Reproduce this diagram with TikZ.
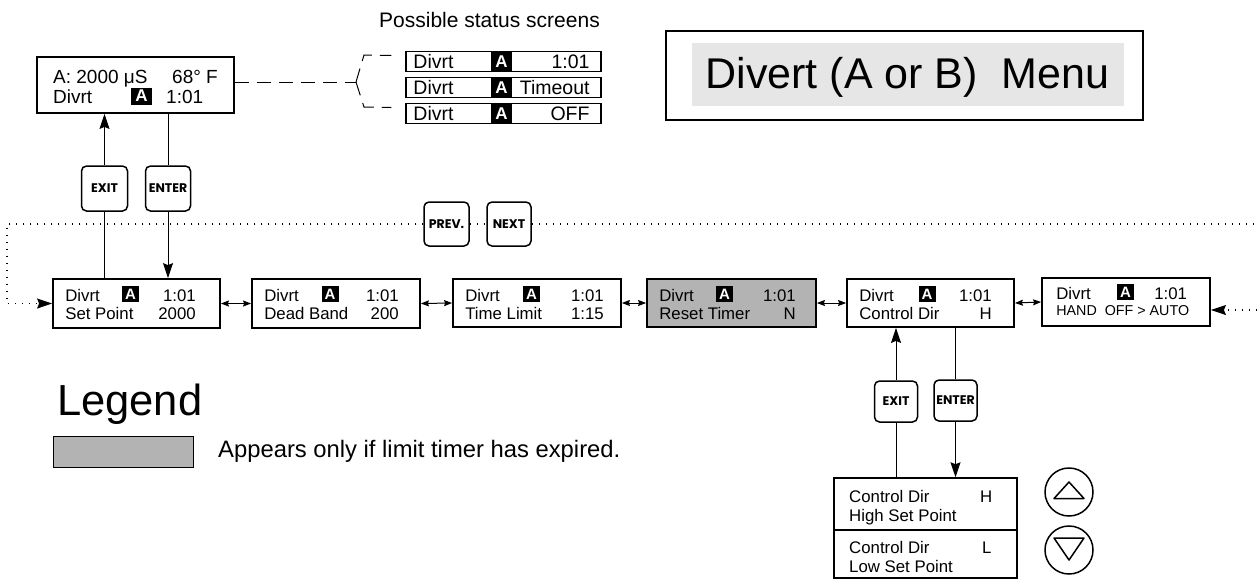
\documentclass[tikz,border=0pt]{standalone}
\usepackage{fontspec}
\setmainfont{Liberation Sans}
\newfontfamily\btnfont{Poppins}
\usetikzlibrary{arrows.meta,calc}
\definecolor{boxgray}{HTML}{B3B3B3}
\definecolor{titlegray}{HTML}{E6E6E6}
\newcommand\rin{24}
\newcommand\aoff{78.5}
\newcommand\lcdscreen[9]{%
  \node[lcd, fill=#6, minimum width=#4pt, minimum height=#5pt] (#1) at (#2,#3) {};
  \node[txt, anchor=base west] (#1-l1) at ($(#1.north west)+(13,23)$) {Divrt};
  \node[ablk] (#1-a) at ($(#1.north west)+(\aoff,16)$) {A};
  \node[txt, anchor=base east] (#1-r1) at ($(#1.north east)+(-\rin,23)$) {#7};
  \node[txt, anchor=base west] (#1-l2) at ($(#1.north west)+(13,41)$) {#8};
  \node[txt, anchor=base east] (#1-r2) at ($(#1.north east)+(-\rin,41)$) {#9};
}
\newcommand\statusrow[3]{%
  \node[srow] (#1) at (503.5,#2) {};
  \node[stxt, anchor=base west] (#1-l) at ($(#1.west)+(8,6.8)$) {Divrt};
  \node[sblk] (#1-a) at (501.5,#2) {A};
  \node[stxt, anchor=base east] (#1-r) at ($(#1.east)+(-12,6.8)$) {#3};
}
\begin{document}
\begin{tikzpicture}[x=1pt,y=-1pt,
  lcd/.style={draw, line width=1.8pt, inner sep=0pt},
  txt/.style={inner sep=0pt, font=\fontsize{16.8}{18}\selectfont},
  stattxt/.style={inner sep=0pt, font=\fontsize{19}{20}\selectfont},
  ablk/.style={fill=black, text=white, inner sep=0pt, minimum width=17pt, minimum height=16pt, font=\fontsize{15}{15}\selectfont\bfseries},
  srow/.style={draw, line width=1.5pt, inner sep=0pt, minimum width=195pt, minimum height=20pt},
  stxt/.style={inner sep=0pt, font=\fontsize{19.5}{20}\selectfont},
  sblk/.style={fill=black, text=white, inner sep=0pt, minimum width=21pt, minimum height=20pt, font=\fontsize{17}{17}\selectfont\bfseries},
  btn/.style={draw, line width=1.5pt, rounded corners=5pt, fill=white, inner sep=0pt, font=\btnfont\bfseries\fontsize{12.5}{14}\selectfont},
  conn/.style={line width=1pt},
  bigarr/.style={-{Stealth[length=15pt,width=10pt,inset=2pt]}},
  smallarr/.style={{Stealth[length=8pt,width=6pt,inset=1pt]}-{Stealth[length=8pt,width=6pt,inset=1pt]}},
  dotline/.style={line width=1.1pt, dash pattern=on 1.2pt off 5.8pt},
  dashline/.style={line width=1pt, dash pattern=on 14pt off 8pt},
]
\useasboundingbox (0,0) rectangle (1257,579);

% ---------- status display ----------
\node[lcd, minimum width=197pt, minimum height=56pt] (st) at (135.5,85) {};
\node[stattxt, anchor=base west] (st-l1) at (53,83) {A: 2000 μS};
\node[stattxt, anchor=base west] (st-r1) at (172,83) {68° F};
\node[stattxt, anchor=base west] (st-l2) at (53,103) {Divrt};
\node[ablk, minimum width=21pt, minimum height=17pt, font=\fontsize{17}{17}\selectfont\bfseries] (st-a) at (141.5,96) {A};
\node[stattxt, anchor=base west] (st-r2) at (166,103) {1:01};

% ---------- possible status screens ----------
\node[inner sep=0pt, font=\fontsize{21}{22}\selectfont, anchor=base] (pss) at (489.5,27) {Possible status screens};
\statusrow{s1}{61.5}{1:01}
\statusrow{s2}{87.5}{Timeout}
\statusrow{s3}{113.5}{OFF}
\coordinate (brj) at (356,82);
\draw[dashline] ($(st.east)+(0,-3)$) -- (brj);
\draw[dashline] (brj) -- (364,55) -- ($(s1.west)+(-14,-6)$);
\draw[dashline] (brj) -- (364,107) -- ($(s3.west)+(-14,-6)$);

% ---------- title ----------
\node[draw, line width=1.5pt, inner sep=0pt, minimum width=477pt, minimum height=89pt] (ttl) at (904.5,75.5) {};
\node[fill=titlegray, inner sep=0pt, minimum width=432pt, minimum height=63pt] (ttlbg) at (908,74.5) {};
\node[inner sep=0pt, font=\fontsize{43}{46}\selectfont, anchor=base] (ttltxt) at (907.5,88) {Divert (A or B)\ \ Menu};

% ---------- main row ----------
\renewcommand\rin{25}\renewcommand\aoff{78.5}
\lcdscreen{b1}{136.5}{303.5}{167}{49}{white}{1:01}{Set Point}{2000}
\renewcommand\rin{22}\renewcommand\aoff{79}
\lcdscreen{b2}{336}{303.5}{168}{49}{white}{1:01}{Dead Band}{200}
\renewcommand\rin{18}\renewcommand\aoff{79.5}
\lcdscreen{b3}{537}{303}{168}{48}{white}{1:01}{Time Limit}{1:15}
\renewcommand\rin{21}\renewcommand\aoff{78.5}
\lcdscreen{b4}{731.5}{303}{169}{48}{boxgray}{1:01}{Reset Timer}{N}
\renewcommand\rin{23}\renewcommand\aoff{81}
\lcdscreen{b5}{930.5}{303}{167}{48}{white}{1:01}{Control Dir}{H}

\node[lcd, minimum width=168pt, minimum height=48pt] (b6) at (1126,302) {};
\node[txt, anchor=base west] (b6-l1) at ($(b6.north west)+(15,22)$) {Divrt};
\node[ablk] (b6-a) at ($(b6.north west)+(84.5,15)$) {A};
\node[txt, anchor=base west] (b6-r1) at ($(b6.north west)+(113,22)$) {1:01};
\node[txt, font=\fontsize{14.3}{16}\selectfont, anchor=base west] (b6-l2) at ($(b6.north west)+(15,38)$) {HAND\ \ OFF > AUTO};

\draw[conn, smallarr] (b1.east) -- (b2.west);
\draw[conn, smallarr] (b2.east) -- (b3.west);
\draw[conn, smallarr] (b3.east) -- (b4.west);
\draw[conn, smallarr] (b4.east) -- (b5.west);
\draw[conn, smallarr] (b5.east) -- (b6.west);

% ---------- exit / enter (top) ----------
\node[btn, minimum width=46pt, minimum height=45pt] (ex1) at (104.5,188.5) {EXIT};
\node[btn, minimum width=45pt, minimum height=45pt] (en1) at (168,188.5) {ENTER};
\draw[conn] (b1.north -| ex1.center) -- (ex1.south);
\draw[conn, bigarr] (ex1.north) -- (st.south -| ex1.center);
\draw[conn] (st.south -| en1.center) -- (en1.north);
\draw[conn, bigarr] (en1.south) -- (b1.north -| en1.center);

% ---------- prev / next ----------
\node[btn, minimum width=45pt, minimum height=44pt] (pv) at (446.5,224) {PREV.};
\node[btn, minimum width=44pt, minimum height=44pt] (nx) at (509,224) {NEXT};
\coordinate (lc1) at (7,224);
\coordinate (lc2) at (7,303.5);
\coordinate (rc1) at (1257,224);
\coordinate (rc2) at (1257,310);
\draw[dotline, bigarr] (pv.west) -- (lc1) -- (lc2) -- (b1.west);
\draw[dotline] (pv.east) -- (nx.west);
\draw[dotline] (nx.east) -- (rc1);
\draw[dotline, bigarr] (rc2) -- (b6.east |- rc2);

% ---------- control dir submenu ----------
\node[btn, minimum width=43pt, minimum height=41pt] (ex2) at (896,401.5) {EXIT};
\node[btn, minimum width=43pt, minimum height=41pt] (en2) at (955.5,400.5) {ENTER};
\node[draw, line width=1.5pt, inner sep=0pt, minimum width=183pt, minimum height=52pt] (lb1) at (925.5,504) {};
\node[draw, line width=1.5pt, inner sep=0pt, minimum width=183pt, minimum height=48pt] (lb2) at (925.5,554) {};
\node[txt, anchor=base west] (lb1-l1) at (849,502) {Control Dir};
\node[txt, anchor=base west] (lb1-r1) at (980,502) {H};
\node[txt, anchor=base west] (lb1-l2) at (849,521) {High Set Point};
\node[txt, anchor=base west] (lb2-l1) at (849,553) {Control Dir};
\node[txt, anchor=base west] (lb2-r1) at (982,553) {L};
\node[txt, anchor=base west] (lb2-l2) at (849,572) {Low Set Point};
\draw[conn] (lb1.north -| ex2.center) -- (ex2.south);
\draw[conn, bigarr] (ex2.north) -- (b5.south -| ex2.center);
\draw[conn] (b5.south -| en2.center) -- (en2.north);
\draw[conn, bigarr] (en2.south) -- (lb1.north -| en2.center);

\node[draw, circle, line width=1.5pt, minimum size=48pt, inner sep=0pt] (cu) at (1069,492) {};
\node[draw, circle, line width=1.5pt, minimum size=48pt, inner sep=0pt] (cd) at (1069,550) {};
\draw[line width=1.5pt, line join=round] ($(cu)+(-15,6.5)$) -- ($(cu)+(15,6.5)$) -- ($(cu)+(0,-10)$) -- cycle;
\draw[line width=1.5pt, line join=round] ($(cd)+(-15,-12)$) -- ($(cd)+(15,-12)$) -- ($(cd)+(0,10)$) -- cycle;

% ---------- legend ----------
\node[inner sep=0pt, font=\fontsize{43.5}{46}\selectfont, anchor=base west] (lg) at (57,415) {Legend};
\node[draw, line width=1pt, fill=boxgray, inner sep=0pt, minimum width=140pt, minimum height=31pt] (lgbox) at (123,451.5) {};
\node[inner sep=0pt, font=\fontsize{23.8}{25}\selectfont, anchor=base west] (lgtxt) at (218,457) {Appears only if limit timer has expired.};
\end{tikzpicture}
\end{document}
